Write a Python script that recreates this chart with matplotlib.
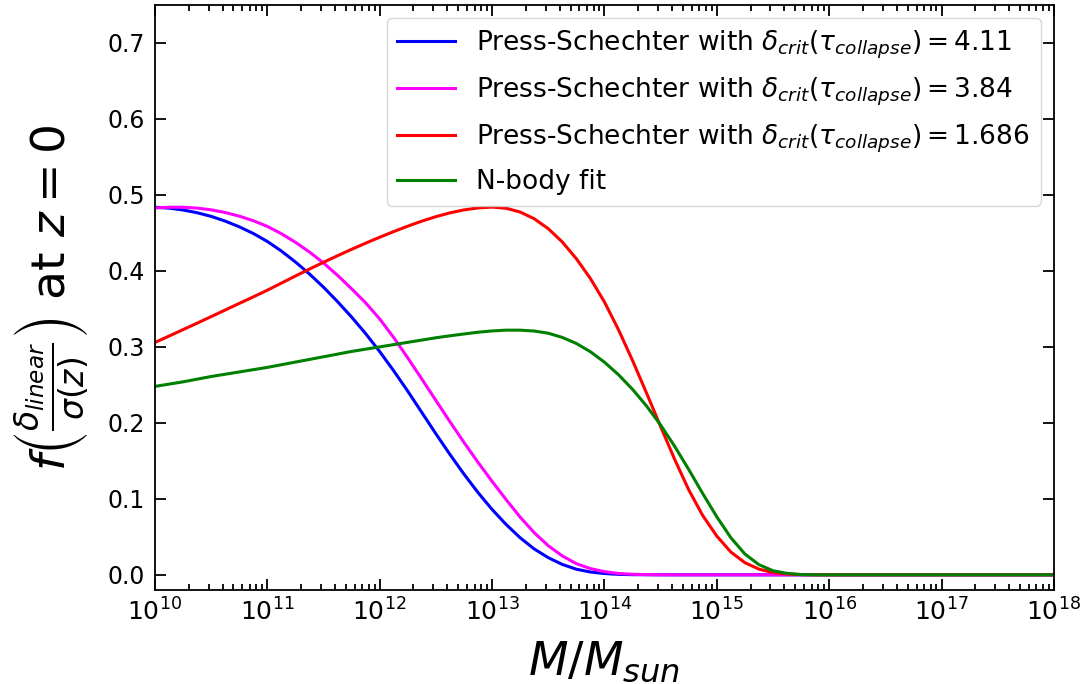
import matplotlib
matplotlib.use("Agg")
import matplotlib.pyplot as plt
import numpy as np

# log10(M/Msun) sample points
log_mass = [10.0, 10.125, 10.25, 10.375, 10.5, 10.625, 10.75, 10.875,
            11.0, 11.125, 11.25, 11.375, 11.5, 11.625, 11.75, 11.875,
            12.0, 12.125, 12.25, 12.375, 12.5, 12.625, 12.75, 12.875,
            13.0, 13.125, 13.25, 13.375, 13.5, 13.625, 13.75, 13.875,
            14.0, 14.125, 14.25, 14.375, 14.5, 14.625, 14.75, 14.875,
            15.0, 15.125, 15.25, 15.375, 15.5, 15.625, 15.75, 15.875,
            16.0, 16.5, 17.0, 17.5, 18.0]

ps_411 = [0.4838, 0.4826, 0.4802, 0.4766, 0.4718, 0.4656, 0.4581, 0.4493,
          0.4388, 0.4262, 0.4118, 0.3960, 0.3786, 0.3596, 0.3393, 0.3175,
          0.2939, 0.2685, 0.2417, 0.2137, 0.1857, 0.1585, 0.1326, 0.1083,
          0.0861, 0.0663, 0.0488, 0.0341, 0.0226, 0.0137, 0.0074, 0.0037,
          0.0017, 0.0006, 0.0002, 0.0001, 0.0, 0.0, 0.0, 0.0,
          0.0, 0.0, 0.0, 0.0, 0.0, 0.0, 0.0, 0.0,
          0.0, 0.0, 0.0, 0.0, 0.0]

ps_384 = [0.4829, 0.4838, 0.4838, 0.4827, 0.4804, 0.4769, 0.4721, 0.4661,
          0.4586, 0.4490, 0.4377, 0.4249, 0.4105, 0.3942, 0.3765, 0.3580,
          0.3368, 0.3123, 0.2855, 0.2577, 0.2296, 0.2016, 0.1743, 0.1481,
          0.1231, 0.0990, 0.0760, 0.0555, 0.0383, 0.0249, 0.0147, 0.0082,
          0.0042, 0.0018, 0.0007, 0.0003, 0.0001, 0.0, 0.0, 0.0,
          0.0, 0.0, 0.0, 0.0, 0.0, 0.0, 0.0, 0.0,
          0.0, 0.0, 0.0, 0.0, 0.0]

ps_1686 = [0.3058, 0.3142, 0.3227, 0.3312, 0.3398, 0.3485, 0.3572, 0.3658,
           0.3746, 0.3839, 0.3933, 0.4024, 0.4113, 0.4200, 0.4284, 0.4365,
           0.4443, 0.4518, 0.4589, 0.4655, 0.4714, 0.4764, 0.4803, 0.4829,
           0.4840, 0.4825, 0.4775, 0.4687, 0.4556, 0.4381, 0.4161, 0.3901,
           0.3592, 0.3227, 0.2822, 0.2392, 0.1952, 0.1520, 0.1120, 0.0780,
           0.0510, 0.0300, 0.0160, 0.0075, 0.0030, 0.0010, 0.0003, 0.0001,
           0.0, 0.0, 0.0, 0.0, 0.0]

nbody_fit = [0.248, 0.251, 0.254, 0.2575, 0.261, 0.264, 0.267, 0.270,
             0.273, 0.2765, 0.280, 0.2835, 0.287, 0.2905, 0.294, 0.297,
             0.300, 0.303, 0.306, 0.309, 0.312, 0.3146, 0.317, 0.3193,
             0.321, 0.3220, 0.322, 0.3209, 0.318, 0.3125, 0.3045, 0.2937,
             0.2799, 0.2634, 0.2442, 0.2222, 0.1972, 0.1692, 0.1387, 0.1069,
             0.0764, 0.0489, 0.0274, 0.0134, 0.0054, 0.0019, 0.0004, 0.0,
             0.0, 0.0, 0.0, 0.0, 0.0]

labels = [r"Press-Schechter with $\delta_{crit}(\tau_{collapse}) = 4.11$",
          r"Press-Schechter with $\delta_{crit}(\tau_{collapse}) = 3.84$",
          r"Press-Schechter with $\delta_{crit}(\tau_{collapse}) = 1.686$",
          "N-body fit"]
colors = ["blue", "magenta", "red", "green"]

mass = 10.0 ** np.array(log_mass)

fig = plt.figure(figsize=(10.91, 6.84), dpi=100)
ax = fig.add_axes([0.142, 0.1374, 0.824, 0.8553])

for ys, lab, c in zip([ps_411, ps_384, ps_1686, nbody_fit], labels, colors):
    ax.plot(mass, ys, color=c, lw=2.2, label=lab)

ax.set_xscale("log")
ax.set_xlim(1e10, 1e18)
ax.set_ylim(-0.02, 0.75)
ax.set_yticks([0.0, 0.1, 0.2, 0.3, 0.4, 0.5, 0.6, 0.7])
ax.set_xticks([10.0 ** k for k in range(10, 19)])

ax.tick_params(which="both", direction="in", top=True, right=True, width=1.3)
ax.tick_params(which="major", length=8)
ax.tick_params(which="minor", length=4)
ax.tick_params(axis="y", labelsize=17, pad=7)
ax.tick_params(axis="x", labelsize=18, pad=6)
for s in ax.spines.values():
    s.set_linewidth(1.3)

ax.set_xlabel(r"$M/M_{sun}$", fontsize=33, labelpad=10)
ax.set_ylabel(r"$f\left(\frac{\delta_{linear}}{\sigma(z)}\right)$ at $z=0$", fontsize=34, labelpad=13)

ax.legend(loc="upper right", fontsize=19, handlelength=2.2, labelspacing=0.55)

fig.savefig("out.png", dpi=100)
